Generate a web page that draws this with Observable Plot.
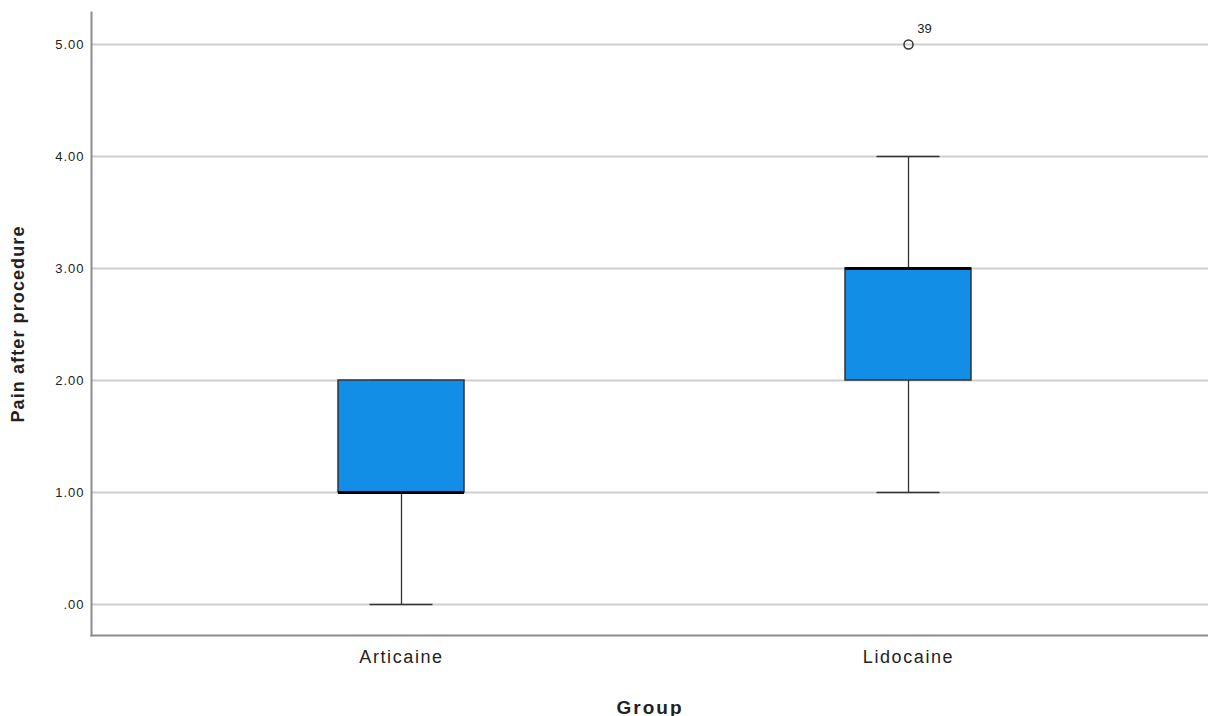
<!DOCTYPE html>
<html>
<head>
<meta charset="utf-8">
<script src="https://cdn.jsdelivr.net/npm/d3@7"></script>
<script src="https://cdn.jsdelivr.net/npm/@observablehq/plot@0.6"></script>
<style>
  html, body { margin: 0; padding: 0; background: #fff; }
  #chart svg { display: block; }
  #chart [aria-label="y-axis label"] text, #chart [aria-label="y-axis label"] { font-weight: bold; font-size: 18px; letter-spacing: 1.1px; }
  #chart [aria-label="x-axis label"] text, #chart [aria-label="x-axis label"] { font-weight: bold; font-size: 19px; letter-spacing: 2px; }
  #chart [aria-label="y-axis tick label"] text { letter-spacing: 1px; }
  #chart [aria-label="x-axis tick label"] text { letter-spacing: 1.6px; }
</style>
</head>
<body>
<div id="chart"></div>
<script>
const groups = ["Articaine", "Lidocaine"];
const mins = [0, 1];
const q1s = [1, 2];
const medians = [1, 3];
const q3s = [2, 3];
const maxs = [2, 4];
const outlierGroups = ["Lidocaine"];
const outlierValues = [5];
const outlierLabels = ["39"];
const yTicks = [0, 1, 2, 3, 4, 5];
const yTickLabels = [".00", "1.00", "2.00", "3.00", "4.00", "5.00"];
const yDomain = [-0.277, 5.286];

const boxes = groups.map((g, i) => ({group: g, min: mins[i], q1: q1s[i], median: medians[i], q3: q3s[i], max: maxs[i]}));
const outliers = outlierGroups.map((g, i) => ({group: g, value: outlierValues[i], label: outlierLabels[i]}));

const W = 1208, H = 716;
const mL = 91, mR = 0, mT = 12, mB = 81;
const boxW = 126;
const step = 507;
const pInner = 1 - boxW / step;
const pOuter = ((W - mL - mR) / step - 2 + pInner) / 2;
const capInset = boxW / 4;

const chart = Plot.plot({
  width: W,
  height: H,
  marginLeft: mL,
  marginRight: mR,
  marginTop: mT,
  marginBottom: mB,
  style: {fontFamily: "'Liberation Sans', Arial, sans-serif", background: "#fff"},
  x: {domain: groups, paddingInner: pInner, paddingOuter: pOuter, align: 0.51},
  y: {domain: yDomain},
  marks: [
    Plot.gridY(yTicks, {stroke: "#cfcfcf", strokeOpacity: 1, strokeWidth: 2}),
    Plot.frame({anchor: "left", stroke: "#8c8c8c", strokeWidth: 2}),
    Plot.frame({anchor: "bottom", stroke: "#8c8c8c", strokeWidth: 2}),
    Plot.axisY(yTicks, {
      tickSize: 0, tickPadding: 7, fontSize: 13, fill: "#222",
      tickFormat: (d) => yTickLabels[yTicks.indexOf(d)],
      label: "Pain after procedure", labelAnchor: "center", labelArrow: "none",
      labelOffset: 80
    }),
    Plot.axisX({
      tickSize: 0, tickPadding: 15, fontSize: 18, fill: "#222",
      label: "Group", labelAnchor: "center", labelArrow: "none", labelOffset: 78
    }),
    Plot.ruleX(boxes, {x: "group", y1: "min", y2: "q1", stroke: "#333", strokeWidth: 1.3}),
    Plot.ruleX(boxes, {x: "group", y1: "q3", y2: "max", stroke: "#333", strokeWidth: 1.3}),
    Plot.tickY(boxes, {x: "group", y: "min", stroke: "#333", strokeWidth: 1.5, insetLeft: capInset, insetRight: capInset}),
    Plot.tickY(boxes, {x: "group", y: "max", stroke: "#333", strokeWidth: 1.5, insetLeft: capInset, insetRight: capInset}),
    Plot.rect(boxes, {x: "group", y1: "q1", y2: "q3", fill: "#128ee6", stroke: "#333", strokeWidth: 1.5}),
    Plot.tickY(boxes, {x: "group", y: "median", stroke: "#000", strokeWidth: 3}),
    Plot.dot(outliers, {x: "group", y: "value", r: 4.5, stroke: "#333", strokeWidth: 1.5, fill: "none"}),
    Plot.text(outliers, {x: "group", y: "value", text: "label", dx: 16, dy: -16, fontSize: 13, fill: "#222"})
  ]
});

document.getElementById("chart").appendChild(chart);
</script>
</body>
</html>
